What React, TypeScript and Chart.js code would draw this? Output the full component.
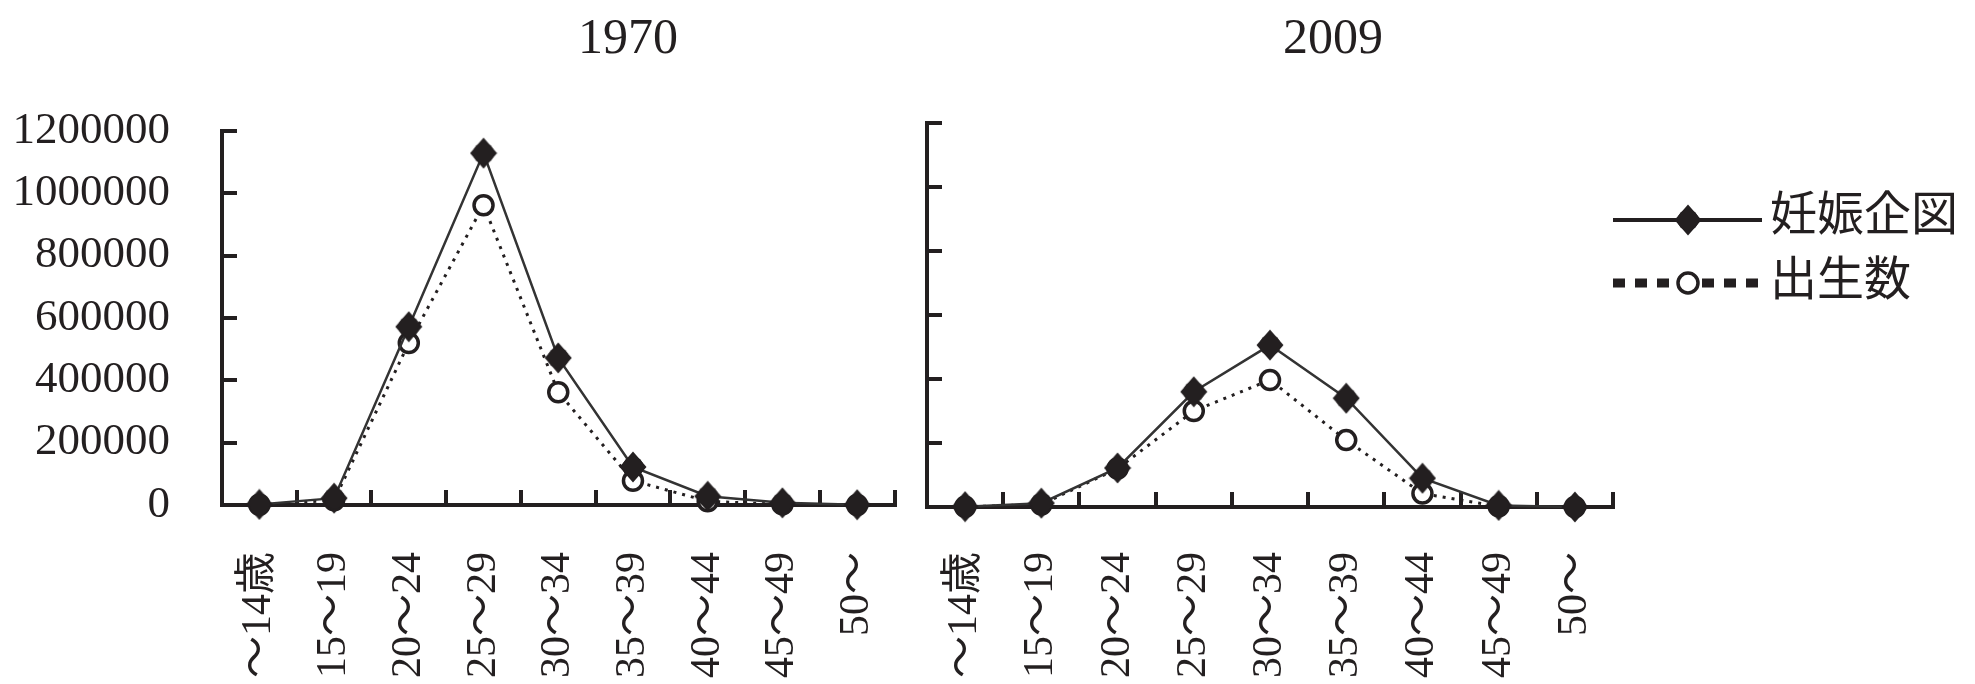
import React, { useEffect, useRef } from 'react';
import { Chart, registerables } from 'chart.js';

Chart.register(...registerables);

// ---------- data ----------
const categories = ['～14歳', '15～19', '20～24', '25～29', '30～34', '35～39', '40～44', '45～49', '50～'];
const pregnancy1970 = [2000, 22000, 572000, 1129000, 472000, 122000, 28000, 7000, 1000];
const births1970 = [1000, 15000, 520000, 962000, 362000, 78000, 12000, 2000, 0];
const pregnancy2009 = [1000, 12000, 122000, 360000, 506000, 340000, 90000, 5000, 0];
const births2009 = [500, 8000, 120000, 300000, 397000, 209000, 42000, 2000, 0];
const seriesNames = ['妊娠企図', '出生数'];
const panelTitles = ['1970', '2009'];
const yMin = 0;
const yMax = 1200000;
const yStep = 200000;

// ---------- styles ----------
const INK = '#231f20';
const FONT = '"Liberation Serif", "Noto Sans CJK JP", serif';

function makeStarMarker(): HTMLCanvasElement {
  const c = document.createElement('canvas');
  c.width = 28;
  c.height = 32;
  const ctx = c.getContext('2d') as CanvasRenderingContext2D;
  ctx.fillStyle = INK;
  ctx.beginPath();
  ctx.moveTo(14, 0.5);
  ctx.lineTo(27.5, 16);
  ctx.lineTo(14, 31.5);
  ctx.lineTo(0.5, 16);
  ctx.closePath();
  ctx.fill();
  ctx.beginPath();
  ctx.arc(14, 16, 10.5, 0, Math.PI * 2);
  ctx.fill();
  return c;
}

const titlePlugin = {
  id: 'panelTitle',
  afterDraw(chart: any, _args: any, opts: any) {
    const { ctx, chartArea } = chart;
    ctx.save();
    ctx.font = `50px ${FONT}`;
    ctx.fillStyle = INK;
    ctx.textAlign = 'center';
    ctx.textBaseline = 'middle';
    ctx.fillText(opts.text, chartArea.left + chartArea.width * opts.frac, opts.y);
    ctx.restore();
  },
};

const legendPlugin = {
  id: 'lineLegend',
  afterDraw(chart: any, _args: any, opts: any) {
    if (!opts || !opts.show) return;
    const { ctx, chartArea } = chart;
    const x0 = chartArea.right;
    const x1 = x0 + 149;
    const xm = x0 + 75;
    const xt = x0 + 157;
    const rows = [220, 283];
    ctx.save();
    // row 1: solid line with filled marker
    ctx.strokeStyle = INK;
    ctx.lineWidth = 4;
    ctx.setLineDash([]);
    ctx.beginPath();
    ctx.moveTo(x0, rows[0]);
    ctx.lineTo(x1, rows[0]);
    ctx.stroke();
    const star = opts.star as HTMLCanvasElement;
    ctx.drawImage(star, xm - star.width / 2, rows[0] - star.height / 2);
    // row 2: dotted line with open circle
    ctx.lineWidth = 9;
    ctx.lineCap = 'butt';
    ctx.setLineDash([12, 10]);
    ctx.beginPath();
    ctx.moveTo(x0, rows[1]);
    ctx.lineTo(xm - 14, rows[1]);
    ctx.stroke();
    ctx.beginPath();
    ctx.moveTo(xm + 14, rows[1]);
    ctx.lineTo(x1, rows[1]);
    ctx.stroke();
    ctx.setLineDash([]);
    ctx.lineWidth = 3.5;
    ctx.fillStyle = '#ffffff';
    ctx.beginPath();
    ctx.arc(xm, rows[1], 10, 0, Math.PI * 2);
    ctx.fill();
    ctx.stroke();
    // texts
    ctx.fillStyle = INK;
    ctx.font = `47px ${FONT}`;
    ctx.textAlign = 'left';
    ctx.textBaseline = 'middle';
    ctx.fillText(seriesNames[0], xt, rows[0] - 2);
    ctx.fillText(seriesNames[1], xt, rows[1]);
    ctx.restore();
  },
};

type PanelProps = {
  pregnancy: number[];
  births: number[];
  title: string;
  titleFrac: number;
  showYLabels: boolean;
  showLegend: boolean;
  left: number;
  width: number;
  padTop: number;
  padRight: number;
  yWidth: number;
  xHeight: number;
  labelPad: number;
};

function Panel(p: PanelProps) {
  const ref = useRef<HTMLCanvasElement>(null);
  useEffect(() => {
    const star = makeStarMarker();
    const gridOpts = {
      display: true,
      offset: true,
      drawOnChartArea: false,
      drawTicks: true,
      tickLength: -15,
      tickWidth: 4,
      tickColor: INK,
      color: INK,
      lineWidth: 4,
    };
    const chart = new Chart(ref.current as HTMLCanvasElement, {
      type: 'line',
      data: {
        labels: categories,
        datasets: [
          {
            label: seriesNames[0],
            data: p.pregnancy,
            borderColor: '#333333',
            borderWidth: 2.5,
            pointStyle: star as any,
            pointRadius: 13,
            tension: 0,
            clip: false as any,
          },
          {
            label: seriesNames[1],
            data: p.births,
            borderColor: INK,
            borderWidth: 3,
            borderDash: [3, 6],
            pointStyle: 'circle',
            pointRadius: 9.5,
            pointBorderWidth: 3.5,
            pointBackgroundColor: '#ffffff',
            pointBorderColor: INK,
            tension: 0,
            clip: false as any,
          },
        ],
      },
      options: {
        responsive: false,
        animation: false,
        events: [],
        layout: { padding: { top: p.padTop, right: p.padRight, left: 0, bottom: 0 } },
        plugins: {
          legend: { display: false },
          tooltip: { enabled: false },
          panelTitle: { text: p.title, frac: p.titleFrac, y: 40 },
          lineLegend: { show: p.showLegend, star },
        } as any,
        scales: {
          x: {
            type: 'category',
            offset: true,
            grid: { ...gridOpts },
            border: { display: true, color: INK, width: 4 },
            ticks: {
              autoSkip: false,
              minRotation: 90,
              maxRotation: 90,
              padding: p.labelPad,
              color: INK,
              font: { family: FONT, size: 42 },
            },
            afterFit: (s: any) => {
              s.height = p.xHeight;
              s.paddingLeft = 0;
              s.paddingRight = 0;
              s.paddingTop = 0;
              s.paddingBottom = 0;
            },
          },
          y: {
            min: yMin,
            max: yMax,
            grid: { ...gridOpts, offset: false },
            border: { display: true, color: INK, width: 4 },
            ticks: {
              stepSize: yStep,
              display: p.showYLabels,
              padding: 67,
              color: INK,
              font: { family: FONT, size: 45 },
              callback: (v: any) => String(v),
            },
            afterFit: (s: any) => {
              s.width = p.yWidth;
              s.paddingLeft = 0;
              s.paddingRight = 0;
              s.paddingTop = 0;
              s.paddingBottom = 0;
            },
          },
        } as any,
      },
      plugins: [titlePlugin, legendPlugin],
    });
    return () => chart.destroy();
  }, []);
  return (
    <canvas
      ref={ref}
      width={p.width}
      height={684}
      style={{ position: 'absolute', left: p.left, top: 0, width: p.width, height: 684, display: 'block' }}
    />
  );
}

export default function App() {
  return (
    <div
      style={{
        position: 'absolute',
        left: 0,
        top: 0,
        width: 1975,
        height: 684,
        overflow: 'hidden',
        background: '#ffffff',
      }}
    >
      <Panel
        pregnancy={pregnancy1970}
        births={births1970}
        title={panelTitles[0]}
        titleFrac={0.6036}
        showYLabels={true}
        showLegend={false}
        left={0}
        width={910}
        padTop={131}
        padRight={12}
        yWidth={222}
        xHeight={179}
        labelPad={62}
      />
      <Panel
        pregnancy={pregnancy2009}
        births={births2009}
        title={panelTitles[1]}
        titleFrac={0.592}
        showYLabels={false}
        showLegend={true}
        left={910}
        width={1065}
        padTop={123}
        padRight={362}
        yWidth={17}
        xHeight={177}
        labelPad={60}
      />
    </div>
  );
}
